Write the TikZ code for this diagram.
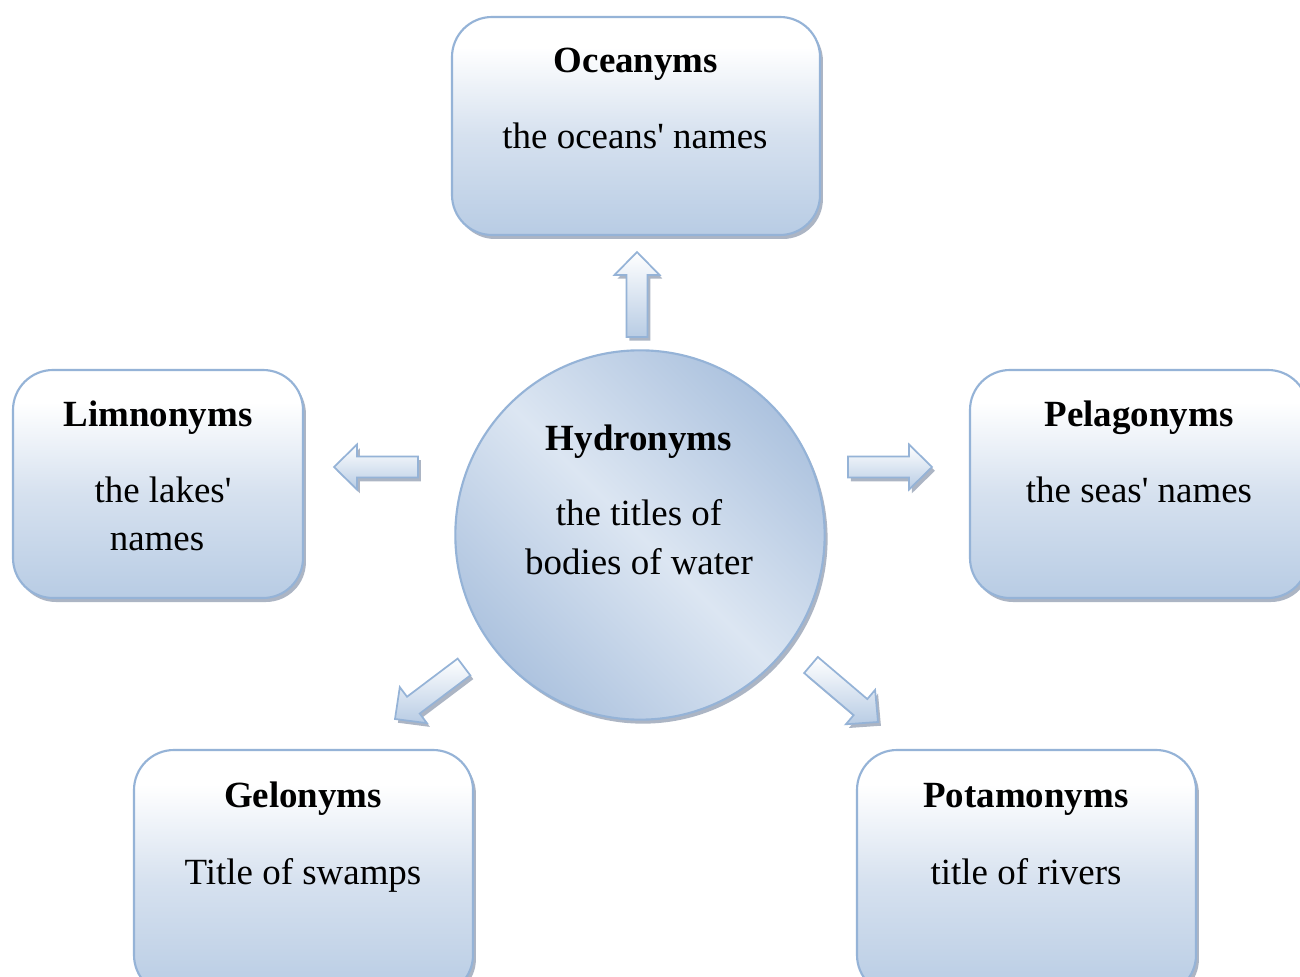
\documentclass[tikz,border=0pt]{standalone}
\usepackage{fontspec}
\setmainfont{Liberation Serif}
\usetikzlibrary{calc,shadows}
\definecolor{bord}{HTML}{95B3D7}
\definecolor{boxbot}{HTML}{B8CCE4}
\definecolor{boxmid}{HTML}{D6E1EF}
\definecolor{cdark}{HTML}{A4BCDB}
\definecolor{clight}{HTML}{DCE6F2}
\definecolor{shadowc}{HTML}{8A97AC}
\pgfdeclareverticalshading{boxshade}{100bp}{color(0bp)=(boxbot); color(25bp)=(boxbot); color(48bp)=(boxmid); color(68bp)=(white); color(100bp)=(white)}
\pgfdeclarehorizontalshading{circshade}{100bp}{color(0bp)=(cdark); color(20bp)=(cdark); color(50bp)=(clight); color(80bp)=(cdark); color(100bp)=(cdark)}
\newcommand\blockarrow[2]{%
  \coordinate (#1-h) at ($(#2)!17.25pt!(#1)$);
  \begin{scope}[transform canvas={shift={(2.2pt,-2.8pt)}}]
  \path[arrshadow] ($(#1)!7.9pt!90:(#2)$) -- ($(#1-h)!7.9pt!90:(#2)$) -- ($(#1-h)!16.9pt!90:(#2)$) -- (#2) -- ($(#1-h)!16.9pt!-90:(#2)$) -- ($(#1-h)!7.9pt!-90:(#2)$) -- ($(#1)!7.9pt!-90:(#2)$) -- cycle;
  \end{scope}
  \path[arrbody] ($(#1)!7.9pt!90:(#2)$) -- ($(#1-h)!7.9pt!90:(#2)$) -- ($(#1-h)!16.9pt!90:(#2)$) -- (#2) -- ($(#1-h)!16.9pt!-90:(#2)$) -- ($(#1-h)!7.9pt!-90:(#2)$) -- ($(#1)!7.9pt!-90:(#2)$) -- cycle;}
\begin{document}
\begin{tikzpicture}[x=0.75pt,y=-0.75pt,
  box/.style={draw=bord, line width=1.6pt, rounded corners=30pt, shading=boxshade,
    drop shadow={shadow xshift=2.2pt, shadow yshift=-3pt, fill=shadowc, opacity=.7}, inner sep=0pt},
  hub/.style={circle, draw=bord, line width=1.6pt, shading=circshade, shading angle=45,
    drop shadow={shadow xshift=2.2pt, shadow yshift=-3pt, fill=shadowc, opacity=.7}, inner sep=0pt},
  ttl/.style={font=\fontsize{27.7pt}{33pt}\selectfont\bfseries, anchor=base, inner sep=0pt},
  txt/.style={font=\fontsize{27.7pt}{33pt}\selectfont, anchor=base, inner sep=0pt},
  arrbody/.style={draw=bord, line width=1.3pt, top color=white, bottom color=boxbot},
  arrshadow/.style={fill=shadowc, opacity=.7}]
\useasboundingbox (0,0) rectangle (1300,977);
\clip (0,0) rectangle (1300,977);
\fill[white] (0,0) rectangle (1300,977);
% boxes
\node[box, minimum width=276pt, minimum height=163.5pt] (oce) at (636,126) {};
\node[box, minimum width=217.5pt, minimum height=171pt] (lim) at (158,484) {};
\node[box, minimum width=253.5pt, minimum height=171pt] (pel) at (1139,484) {};
\node[box, minimum width=254.25pt, minimum height=183.75pt] (gel) at (303.5,872.5) {};
\node[box, minimum width=254.25pt, minimum height=183.75pt] (pot) at (1026.5,872.5) {};
\node[hub, minimum size=277pt] (hyd) at (640,535) {};
% texts
\node[ttl] (oce-t) at (636,73) {Oceanyms};
\node[txt] (oce-s) at (635,149) {the oceans\textquotesingle\ names};
\node[ttl] (lim-t) at (158,426) {Limnonyms};
\node[txt] (lim-s1) at (163,502) {the lakes\textquotesingle};
\node[txt] (lim-s2) at (157,550) {names};
\node[ttl] (pel-t) at (1139,426) {Pelagonyms};
\node[txt] (pel-s) at (1139,502) {the seas\textquotesingle\ names};
\node[ttl] (hyd-t) at (639,450) {Hydronyms};
\node[txt] (hyd-s1) at (639,525) {the titles of};
\node[txt] (hyd-s2) at (639,574) {bodies of water};
\node[ttl] (gel-t) at (303,807) {Gelonyms};
\node[txt] (gel-s) at (303,884) {Title of swamps};
\node[ttl] (pot-t) at (1026,807) {Potamonyms};
\node[txt] (pot-s) at (1026,884) {title of rivers};
% arrows
\coordinate (a1) at (637,337); \coordinate (b1) at (637,252);
\coordinate (a2) at (418,467); \coordinate (b2) at (334,467);
\coordinate (a3) at (848,467); \coordinate (b3) at (932,467);
\coordinate (a4) at (464,667); \coordinate (b4) at (395,719);
\coordinate (a5) at (811,665); \coordinate (b5) at (878,722);
\blockarrow{a1}{b1}
\blockarrow{a2}{b2}
\blockarrow{a3}{b3}
\blockarrow{a4}{b4}
\blockarrow{a5}{b5}
\end{tikzpicture}
\end{document}
